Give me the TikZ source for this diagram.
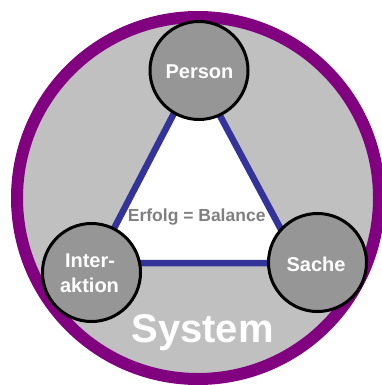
\documentclass[tikz,border=0pt]{standalone}
\usepackage{fontspec}
\setmainfont{Liberation Sans}
\definecolor{sysPurple}{HTML}{800080}
\definecolor{sysGray}{HTML}{C0C0C0}
\definecolor{ballGray}{HTML}{969696}
\definecolor{triBlue}{HTML}{333399}
\definecolor{labelGray}{HTML}{808080}
\tikzset{
  ball/.style={circle, draw=black, line width=3pt, fill=ballGray, minimum size=98pt, inner sep=0pt},
  balltext/.style={anchor=base, inner sep=0pt, text=white, font=\fontsize{20}{25}\selectfont\bfseries},
  sysring/.style={draw=sysPurple, line width=12pt, fill=sysGray},
  triline/.style={draw=triBlue, line width=6.5pt, fill=white, line join=miter}
}
\begin{document}
\begin{tikzpicture}[x=1pt, y=-1pt]
  \useasboundingbox (0,0) rectangle (382,385);
  % system circle
  \draw[sysring] (198,198) circle (181);
  % balance triangle
  \coordinate (tp) at (196,71);
  \coordinate (tl) at (96,263);
  \coordinate (tr) at (299,263);
  \draw[triline] (tp) -- (tl) -- (tr) -- cycle;
  \node[anchor=base, inner sep=0pt, text=labelGray, font=\fontsize{17.5}{20}\selectfont\bfseries] (bal) at (196.7,221) {Erfolg = Balance};
  % the three elements
  \node[ball] (person) at (199,70.5) {};
  \node[ball] (inter) at (91.5,272.5) {};
  \node[ball] (sache) at (317.5,262.5) {};
  \node[balltext] (personlbl) at (199.5,79) {Person};
  \node[balltext] (interlbl1) at (90,267) {Inter-};
  \node[balltext] (interlbl2) at (89.5,292) {aktion};
  \node[balltext] (sachelbl) at (316,271) {Sache};
  \node[anchor=base, inner sep=0pt, text=white, font=\fontsize{40}{44}\selectfont\bfseries] (sys) at (202.5,342) {System};
\end{tikzpicture}
\end{document}
